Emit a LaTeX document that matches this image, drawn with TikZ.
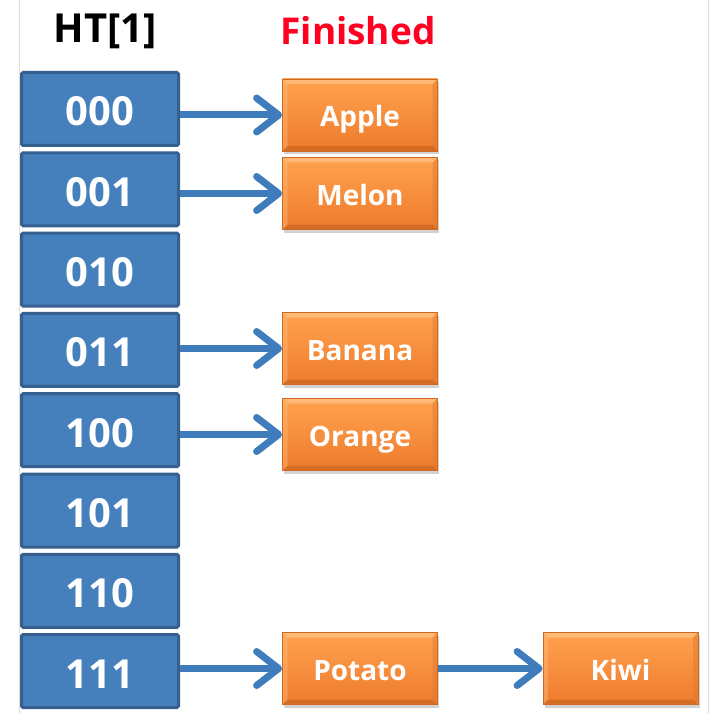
\documentclass[tikz,border=0pt]{standalone}
\usepackage{fontspec}
\setmainfont{Open Sans}
\usetikzlibrary{arrows.meta,shadows}
\definecolor{slotfill}{HTML}{4580BD}
\definecolor{slotedge}{HTML}{36608F}
\definecolor{itemtop}{HTML}{FFA24F}
\definecolor{itembot}{HTML}{EE7B2C}
\definecolor{itemedge}{HTML}{D06A22}
\definecolor{bevellight}{HTML}{FFC080}
\definecolor{beveldark}{HTML}{C9661F}
\definecolor{bevelside}{HTML}{E27A2E}
\definecolor{arrowblue}{HTML}{3F7CBC}
\definecolor{titlered}{HTML}{FF0022}
\definecolor{frame}{HTML}{DDDDDD}
\tikzset{
  slot/.style={draw=slotedge, line width=3pt, fill=slotfill, rounded corners=1.5pt,
    minimum width=157pt, minimum height=73pt, inner sep=0pt,
    text height=34pt, text depth=0pt,
    text=white, font=\bfseries\fontsize{40}{40}\selectfont},
  item/.style={draw=itemedge, line width=0.8pt, top color=itemtop, bottom color=itembot,
    minimum width=155pt, minimum height=72pt, inner sep=0pt,
    text height=24pt, text depth=0pt,
    drop shadow={shadow xshift=1.5pt, shadow yshift=-3pt, opacity=0.35},
    path picture={
      \path (path picture bounding box.north west) coordinate (nw)
            (path picture bounding box.south east) coordinate (se);
      \fill[bevellight, opacity=0.8] (nw) -- (nw -| se) -- ([shift={(-5pt,-5pt)}]nw -| se)
         -- ([shift={(5pt,-5pt)}]nw) -- cycle;
      \fill[beveldark, opacity=0.7] (se) -- (se -| nw) -- ([shift={(5pt,5pt)}]se -| nw)
         -- ([shift={(-5pt,5pt)}]se) -- cycle;
      \fill[bevelside, opacity=0.5] (se) -- (nw -| se) -- ([shift={(-5pt,-5pt)}]nw -| se)
         -- ([shift={(-5pt,5pt)}]se) -- cycle;
      \fill[bevellight, opacity=0.4] (nw) -- (se -| nw) -- ([shift={(5pt,5pt)}]se -| nw)
         -- ([shift={(5pt,-5pt)}]nw) -- cycle;
    },
    text=white, font=\bfseries\fontsize{28}{28}\selectfont},
  link/.style={draw=arrowblue, line width=7pt,
    -{Straight Barb[length=22pt,width=34pt,round]}},
  title/.style={font=\bfseries\fontsize{40}{40}\selectfont, inner sep=0pt}
}
\begin{document}
\begin{tikzpicture}[x=1pt,y=-1pt]
\useasboundingbox (0,0) rectangle (727,714);
\fill[white] (0,0) rectangle (727,714);
\draw[frame, line width=1pt] (19,0) -- (19,714);
\draw[frame, line width=1pt] (708,0) -- (708,714);
\node[title] (ht) at (105,31) {HT[1]};
\node[title, text=titlered, font=\bfseries\fontsize{37}{37}\selectfont] (fin) at (358,31) {Finished};
\foreach \lab [count=\i from 0] in {000,001,010,011,100,101,110,111}{
  \node[slot] (b\lab) at (100,109+80.3*\i) {\lab};
}
\node[item] (apple) at (360,115) {Apple};
\node[item] (melon) at (360,193.5) {Melon};
\node[item] (banana) at (360,348.5) {Banana};
\node[item] (orange) at (360,434.5) {Orange};
\node[item] (potato) at (360,668.5) {Potato};
\node[item] (kiwi) at (620.5,668.5) {Kiwi};
\draw[link] (b000.east |- apple.west) -- (apple.west);
\draw[link] (b001.east |- melon.west) -- (melon.west);
\draw[link] (b011.east |- banana.west) -- (banana.west);
\draw[link] (b100.east |- orange.west) -- (orange.west);
\draw[link] (b111.east |- potato.west) -- (potato.west);
\draw[link] (potato.east) -- (kiwi.west);
\end{tikzpicture}
\end{document}
